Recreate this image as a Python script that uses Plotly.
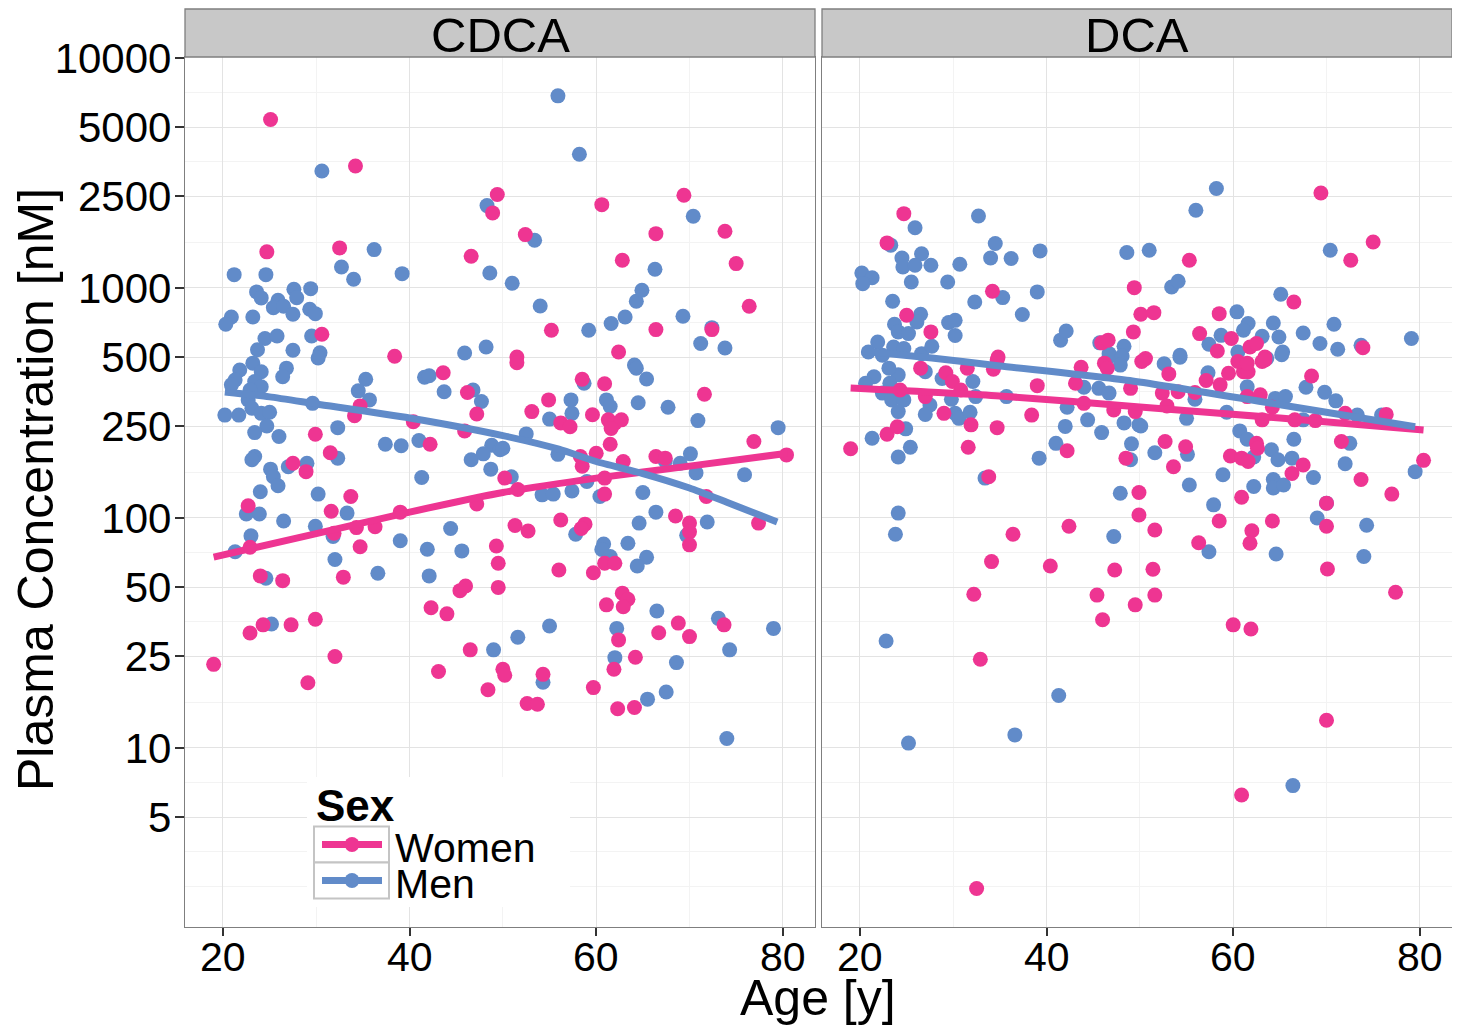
import plotly.graph_objects as go

# ---------------- data (age [y], plasma concentration [nM]) ----------------
cdca_women_age = [25.1, 34.2, 49.4, 48.9, 24.7, 32.5, 46.6, 30.6, 38.4,
                  60.6, 69.4, 52.4, 66.4, 73.8, 62.8, 75.0, 55.2, 66.4, 72.4, 76.4, 62.4, 51.5,
                  34.7, 34.1, 43.6, 46.2, 47.2, 40.4, 45.9, 29.9, 42.2, 50.2, 31.5, 27.5, 28.9,
                  33.7, 31.6, 22.7, 31.9, 34.3, 36.3, 39.0, 47.2, 34.7, 22.9, 49.3, 49.5, 24.0,
                  26.4, 32.9, 45.4, 46.0, 49.5, 42.3, 44.0, 22.9, 24.3, 27.3, 29.9, 46.5, 32.0,
                  51.5, 58.5, 60.9, 71.6, 54.9, 53.1, 56.2, 57.2, 59.6, 61.3, 62.0, 62.7, 61.6,
                  61.5, 76.9, 80.4, 51.6, 58.5, 58.3, 60.0, 62.9, 60.9, 60.9, 66.4, 67.4, 71.8,
                  68.5, 70.0, 70.0, 70.0, 77.4, 56.2, 58.8, 58.4, 51.3, 52.7, 60.9, 62.0, 59.7,
                  56.0, 62.8, 63.4, 62.9, 61.1, 68.8, 73.7, 66.7, 70.0, 62.4,
                  19.0, 29.1, 43.1, 48.4, 50.0, 50.2, 54.3, 52.6, 53.7, 59.7, 61.9, 64.2, 62.3, 64.1]
cdca_women_conc = [5400, 3390, 2547, 2120, 1435, 1493, 1374, 629, 505,
                   2302, 2530, 1706, 1722, 1765, 1320, 1276, 655, 659, 659, 832, 527, 501,
                   307, 278, 428, 351, 283, 262, 239, 231, 209, 149, 192, 173, 159,
                   124, 107, 113, 85.8, 90.8, 91.6, 106, 115, 75, 74.6, 75.5, 63.5, 56,
                   53.4, 55.3, 48.3, 50.6, 49.9, 40.7, 38.3, 31.6, 34.3, 34.3, 36.3, 26.7, 25,
                   473, 401, 383, 345, 326, 290, 259, 249, 281, 267, 258, 267, 245,
                   209, 215, 188, 133, 168, 185, 191, 176, 149, 127, 185, 182, 124,
                   102, 95, 87, 76.4, 95, 98, 94, 90, 92.7, 87.8, 63.5, 63.5, 57.8,
                   59.4, 47.1, 44.3, 41.1, 41.9, 34.9, 34.3, 31.7, 30.5, 29.5,
                   23.1, 19.2, 21.5, 17.9, 22.0, 20.7, 20.9, 15.6, 15.5, 18.3, 22.0, 24.8, 14.8, 15.0]

cdca_men_age = [30.6, 48.3, 36.2, 21.2, 24.6, 32.7, 34.0, 39.2, 48.6, 23.6, 24.1, 27.6, 29.4,
                27.9, 25.9, 25.4, 26.5, 27.5, 29.3, 29.9, 23.2, 20.9, 20.3, 24.5, 25.8, 23.7,
                27.5, 29.5, 30.4, 45.9, 48.2,
                55.9, 58.2, 70.4, 53.4, 66.3, 51.0, 54.0, 59.2, 61.6, 63.1, 64.3, 64.9, 69.3,
                72.4, 71.2, 73.8,
                30.2, 23.2, 21.8, 24.1, 26.8, 26.4, 21.3, 23.4, 20.9, 24.1, 22.9, 22.7, 23.1,
                20.2, 21.7, 24.1, 25.0, 24.7, 23.4, 26.0, 29.6, 35.3, 34.5, 35.7, 41.6, 42.1,
                43.7, 46.8, 47.7, 32.3, 37.4, 39.1, 41.0, 48.8, 49.7, 46.6, 47.9, 48.7, 32.3,
                23.4, 23.1, 27.0, 29.0, 25.1, 25.4, 25.9, 24.0, 30.2, 41.3, 33.3, 22.5, 23.9,
                26.5, 29.9, 31.8, 44.4, 39.0, 23.0, 21.3, 32.0, 41.9, 45.6, 24.6, 36.6, 42.1,
                25.2, 49.0,
                64.1, 64.3, 65.4, 58.7, 57.3, 61.1, 61.5, 64.5, 67.7, 57.4, 55.0, 70.9, 79.5,
                52.5, 50.0, 50.9, 55.9, 59.0, 60.4, 54.2, 55.4, 57.4, 65.0, 67.4, 69.0, 70.1,
                70.7, 75.9, 66.4, 64.6, 71.9, 69.7, 57.8, 60.8, 60.6, 61.5, 63.4, 65.4, 64.4,
                66.5, 73.1, 79.0, 62.2, 55.0, 51.6, 74.3,
                54.3, 62.0, 68.6, 65.5, 67.5, 74.0]
cdca_men_conc = [3225, 2280, 1468, 1142, 1142, 1234, 1091, 1154, 1162, 961, 905, 987, 993,
                 907, 884, 821, 833, 768, 808, 773, 748, 748, 695, 603, 618, 539,
                 536, 618, 523, 521, 554,
                 6840, 3810, 2050, 1611, 1206, 1048, 835, 655, 700, 748, 875, 977, 753,
                 672, 573, 548,
                 496, 471, 440, 432, 448, 411, 398, 392, 379, 372, 360, 326, 300,
                 280, 280, 285, 288, 251, 235, 226, 315, 401, 357, 326, 409, 415,
                 354, 360, 321, 247, 209, 206, 217, 207, 198, 179, 190, 163, 182,
                 185, 179, 167, 173, 163, 151, 138, 130, 127, 150, 105, 104, 104,
                 97, 92, 83, 90, 79.6, 83.6, 71.3, 66, 73.1, 71.9, 54.7, 57.5, 56,
                 34.6, 26.7,
                 462, 448, 402, 385, 326, 326, 305, 317, 303, 285, 269, 265, 247,
                 232, 201, 151, 189, 144, 124, 126, 127, 131, 129, 177, 173, 190,
                 157, 154, 106, 95, 96, 84, 85, 77, 73, 68, 77.6, 67.5, 61.8,
                 39.4, 36.6, 33.1, 33.1, 33.9, 30.3, 26.7,
                 19.3, 24.7, 23.5, 16.3, 17.5, 11.0]

dca_women_age = [24.7, 22.9, 34.2, 49.4, 25.0, 50.1, 51.5, 49.3, 27.6, 45.9, 46.6, 34.8,
                 55.3, 69.4, 72.6, 75.0, 66.5, 58.5, 56.4, 59.8, 58.3, 61.8, 62.5, 73.9, 50.6, 63.4,
                 24.3, 26.5, 29.2, 29.9, 30.8, 27.0, 29.0, 31.5, 31.9, 31.6, 34.7, 34.7, 34.3,
                 38.4, 39.0, 42.2, 43.1, 43.7, 44.0, 46.2, 46.5, 47.2, 49.0, 48.5, 50.2, 49.9,
                 49.9, 42.4, 36.4, 34.1, 40.4, 47.3, 32.2, 45.4, 46.0, 49.5, 33.8, 19.0, 22.9, 24.0,
                 53.1, 57.1, 58.6, 59.5, 61.1, 61.6, 60.5, 61.5, 63.1, 63.4, 61.5, 62.9, 64.2,
                 68.4, 66.6, 68.8, 72.0, 76.4, 52.4, 54.1, 55.9, 52.9, 49.5, 63.1, 62.5, 62.6,
                 71.6, 73.7, 77.0, 80.4, 52.7, 54.9, 53.6, 59.7, 60.9, 61.6, 66.3, 67.5, 60.9,
                 58.5, 64.2, 62.0, 61.8, 70.0, 70.0, 56.3, 70.1, 77.4, 51.6, 51.4, 51.6, 60.0, 61.9,
                 32.9, 32.5, 70.0, 60.9]
dca_women_conc = [2104, 1570, 967, 1003, 761, 768, 781, 644, 644, 577, 593, 501,
                  1320, 2588, 1320, 1585, 869, 773, 633, 603, 532, 554, 573, 550, 493, 501,
                  360, 448, 428, 392, 360, 337, 285, 448, 254, 203, 247, 486, 443,
                  280, 376, 196, 385, 452, 315, 471, 448, 295, 366, 182, 479, 129,
                  103, 92, 85, 64.6, 61.8, 59.4, 46.6, 46.2, 36.1, 41.9, 151, 200, 231, 249,
                  423, 396, 379, 426, 432, 432, 479, 471, 479, 486, 337, 343, 303,
                  414, 267, 265, 285, 282, 349, 354, 351, 307, 290, 267, 211, 201,
                  215, 147, 127, 178, 215, 204, 167, 186, 182, 176, 156, 170, 123,
                  97, 97, 88, 77.6, 116, 92, 78, 60, 47.5, 88.7, 59.8, 46.2, 34.3, 32.9,
                  24.3, 2.45, 13.2, 6.25]

dca_men_age = [25.9, 32.7, 23.3, 34.5, 39.3, 34.0, 36.2, 26.6, 24.5, 24.6, 25.9, 27.6, 30.7,
               20.2, 21.3, 20.3, 25.5, 29.4, 48.6, 35.3, 39.0, 23.5, 32.3, 37.4, 26.5, 26.1,
               23.7, 24.1, 25.2, 29.5, 30.2, 30.2, 41.5, 42.1, 48.3, 46.7, 45.7, 21.9, 20.9,
               23.6, 24.7, 26.6, 27.7, 22.4,
               58.2, 56.0, 51.0, 70.4, 53.4, 54.1, 65.1, 60.4, 58.7, 57.4, 61.6, 61.1, 60.5,
               63.1, 64.3, 64.9, 65.3, 67.5, 69.3, 70.8, 71.2, 73.7, 79.1, 54.3,
               24.1, 21.5, 23.2, 23.1, 20.6, 22.4, 23.4, 24.7, 24.1, 27.0, 28.8, 27.5, 27.0,
               29.8, 30.2, 30.6, 31.8, 32.1, 32.4, 35.7, 39.2, 41.0, 42.0, 42.2, 44.0, 44.4,
               45.9, 45.6, 46.7, 46.7, 48.1, 47.9, 48.3, 49.9, 49.1, 49.0, 47.9, 47.2, 24.1,
               23.8, 22.8, 33.4, 21.3, 24.9, 25.4, 24.1,
               52.6, 54.3, 57.3, 63.6, 65.2, 61.5, 64.5, 65.6, 67.8, 69.8, 71.0, 67.5, 73.3,
               75.9, 55.9, 50.1, 55.0, 59.3, 60.7, 61.5, 66.5, 72.5, 72.0, 79.5, 51.6, 55.1,
               55.3, 58.9, 62.2, 64.1, 64.8, 66.3, 68.6, 64.3, 64.3, 65.4, 62.2, 57.9, 70.0,
               69.0, 74.3, 57.4, 64.6, 74.0,
               41.3, 36.6, 25.2, 66.4]
dca_men_conc = [1827, 2055, 1535, 1560, 1449, 1350, 1342, 1409, 1350, 1234, 1255, 1255, 1268,
                1162, 1108, 1044, 1062, 1062, 1425, 908, 961, 875, 869, 766, 768, 711,
                695, 644, 633, 707, 723, 621, 593, 650, 558, 518, 577, 582, 527,
                554, 545, 518, 558, 510,
                2704, 2178, 1459, 1459, 1010, 1069, 939, 787, 622, 569, 700, 655, 527,
                616, 704, 612, 527, 637, 573, 695, 541, 563, 603, 510,
                419, 411, 385, 448, 385, 349, 326, 326, 290, 432, 404, 310, 282,
                328, 285, 271, 288, 392, 337, 337, 182, 211, 250, 303, 370, 267,
                235, 366, 349, 502, 506, 462, 259, 254, 210, 179, 128, 83, 105,
                85, 29.2, 149, 222, 244, 203, 184,
                468, 500, 428, 494, 512, 372, 331, 337, 370, 352, 323, 267, 280,
                280, 328, 251, 271, 288, 239, 220, 220, 211, 172, 159, 192, 189,
                139, 154, 184, 198, 179, 182, 150, 147, 135, 139, 137, 114, 116,
                100, 93, 71.3, 69.7, 68,
                16.9, 11.4, 10.5, 6.86]

# smoothed trend lines
cdca_women_fit_age = [19, 30, 40, 50, 60, 70, 80.5]
cdca_women_fit_conc = [67.6, 85.5, 106, 129, 149, 168, 191]
cdca_men_fit_age = [20.2, 25, 30, 40, 50, 56, 60, 65, 70, 74, 79.4]
cdca_men_fit_conc = [353, 336, 313, 272, 228, 199, 176, 156, 135, 117, 96]
dca_women_fit_age = [19, 35, 50, 65, 80.4]
dca_women_fit_conc = [367, 339, 304, 272, 241]
dca_men_fit_age = [20.2, 27.7, 35, 49.2, 65.2, 79.5]
dca_men_fit_conc = [532, 496, 458, 394, 310, 249]

panel_names = ["CDCA", "DCA"]
sex_names = ["Women", "Men"]
legend_title = "Sex"
x_ticks = [20, 40, 60, 80]
x_minor = [30, 50, 70]
y_ticks = [5, 10, 25, 50, 100, 250, 500, 1000, 2500, 5000, 10000]
y_minor = [2.5, 3.54, 7.07, 15.8, 35.4, 70.7, 158, 354, 707, 1581, 3536, 7071]

PINK = "#EE3592"
BLUE = "#618BC9"
FONT = "Liberation Sans, Arial, Helvetica, sans-serif"

fig = go.Figure()

panels = [
    ("x", "y", cdca_men_age, cdca_men_conc, cdca_women_age, cdca_women_conc,
     cdca_women_fit_age, cdca_women_fit_conc, cdca_men_fit_age, cdca_men_fit_conc),
    ("x2", "y2", dca_men_age, dca_men_conc, dca_women_age, dca_women_conc,
     dca_women_fit_age, dca_women_fit_conc, dca_men_fit_age, dca_men_fit_conc),
]
for xa, ya, ma, mc, wa, wc, wfa, wfc, mfa, mfc in panels:
    fig.add_trace(go.Scatter(x=ma, y=mc, xaxis=xa, yaxis=ya, mode="markers", name="Men",
                             marker=dict(color=BLUE, size=15, line=dict(width=0)),
                             showlegend=False, hoverinfo="skip"))
    fig.add_trace(go.Scatter(x=wa, y=wc, xaxis=xa, yaxis=ya, mode="markers", name="Women",
                             marker=dict(color=PINK, size=15, line=dict(width=0)),
                             showlegend=False, hoverinfo="skip"))
    fig.add_trace(go.Scatter(x=wfa, y=wfc, xaxis=xa, yaxis=ya, mode="lines",
                             line=dict(color=PINK, width=7, shape="spline", smoothing=0.6),
                             showlegend=False, hoverinfo="skip"))
    fig.add_trace(go.Scatter(x=mfa, y=mfc, xaxis=xa, yaxis=ya, mode="lines",
                             line=dict(color=BLUE, width=7, shape="spline", smoothing=0.6),
                             showlegend=False, hoverinfo="skip"))

# The page body adds an 8px offset; the figure is sized so the plot lands where the reference has it.
OFF = 8
W, H = 1460 - OFF, 1027 - OFF
L, R, T, B = 185 - OFF, 8, 57 - OFF, 100
pw = W - L - R
ph = H - T - B
d1 = (0, 630 / pw)
d2 = (637 / pw, 1)


def px(x):  # reference-pixel x -> paper
    return (x - 185) / pw


def py(y):  # reference-pixel y -> paper
    return (927 - y) / ph


xcommon = dict(range=[15.93, 83.45], tickvals=x_ticks, showticklabels=False,
               ticks="outside", ticklen=8, tickwidth=1.5, tickcolor="#333333",
               showgrid=True, gridcolor="#e3e3e3", gridwidth=1.3,
               minor=dict(tickvals=x_minor, showgrid=True, gridcolor="#f3f3f3", gridwidth=1.3, ticks=""),
               showline=True, mirror=True, linecolor="#7f7f7f", linewidth=1.3, zeroline=False)
ycommon = dict(type="log", range=[0.2217, 4.004], tickvals=y_ticks, ticktext=[str(v) for v in y_ticks],
               showgrid=True, gridcolor="#e3e3e3", gridwidth=1.3,
               minor=dict(tickvals=y_minor, showgrid=True, gridcolor="#f3f3f3", gridwidth=1.3, ticks=""),
               showline=True, mirror=True, linecolor="#7f7f7f", linewidth=1.3, zeroline=False)

fig.update_layout(
    width=W, height=H,
    margin=dict(l=L, r=R, t=T, b=B),
    paper_bgcolor="white", plot_bgcolor="white",
    font=dict(family=FONT, color="black"),
    xaxis=dict(domain=list(d1), anchor="y", **xcommon),
    xaxis2=dict(domain=list(d2), anchor="y2", **xcommon),
    yaxis=dict(domain=[0, 1], anchor="x", ticks="outside", ticklen=9, tickwidth=1.5,
               tickcolor="#333333", ticklabelstandoff=-5,
               tickfont=dict(size=42, color="black", family=FONT), **ycommon),
    yaxis2=dict(domain=[0, 1], anchor="x2", matches="y", showticklabels=False, ticks="", **ycommon),
    showlegend=False,
)

# x tick labels (placed on the data axis)
for xa in ["x", "x2"]:
    for v in x_ticks:
        fig.add_annotation(xref=xa, yref="paper", x=v, y=py(957), text=str(v), showarrow=False,
                           font=dict(size=41, family=FONT, color="black"),
                           xanchor="center", yanchor="middle")

# facet strips
strip_top = py(9)
for (x0, x1), name in zip([d1, d2], panel_names):
    fig.add_shape(type="rect", xref="paper", yref="paper", x0=x0, x1=x1, y0=1, y1=strip_top,
                  fillcolor="#c8c8c8", line=dict(color="#7f7f7f", width=1.3), layer="above")
    fig.add_annotation(xref="paper", yref="paper", x=(x0 + x1) / 2, y=py(35),
                       text=name, showarrow=False, font=dict(size=49, family=FONT, color="black"),
                       xanchor="center", yanchor="middle")

# axis titles
fig.add_annotation(xref="paper", yref="paper", x=px(818), y=py(998), text="Age [y]",
                   showarrow=False, font=dict(size=50, family=FONT, color="black"),
                   xanchor="center", yanchor="middle")
fig.add_annotation(xref="paper", yref="paper", x=px(36), y=py(490),
                   text="Plasma Concentration [nM]", textangle=-90, showarrow=False,
                   font=dict(size=50, family=FONT, color="black"),
                   xanchor="center", yanchor="middle")

# legend (ggplot-style, drawn inside the CDCA panel)
fig.add_shape(type="rect", xref="paper", yref="paper", x0=px(307), x1=px(570), y0=py(907), y1=py(777),
              fillcolor="white", line=dict(width=0), layer="above")
fig.add_annotation(xref="paper", yref="paper", x=px(314), y=py(805), text="<b>" + legend_title + "</b>",
                   showarrow=False, font=dict(size=44, family=FONT, color="black"),
                   xanchor="left", yanchor="middle")
key_rows = [(826.5, 862.5), (862.5, 898.5)]
for (k0, k1), name, col in zip(key_rows, sex_names, [PINK, BLUE]):
    fig.add_shape(type="rect", xref="paper", yref="paper", x0=px(314), x1=px(389), y0=py(k1), y1=py(k0),
                  fillcolor="white", line=dict(color="#c4c4c4", width=2), layer="above")
    yc = (k0 + k1) / 2
    fig.add_shape(type="line", xref="paper", yref="paper", x0=px(322), x1=px(382), y0=py(yc), y1=py(yc),
                  line=dict(color=col, width=7), layer="above")
    fig.add_shape(type="circle", xref="paper", yref="paper", x0=px(352 - 7.5), x1=px(352 + 7.5),
                  y0=py(yc + 7.5), y1=py(yc - 7.5), fillcolor=col, line=dict(width=0), layer="above")
    fig.add_annotation(xref="paper", yref="paper", x=px(393), y=py(yc + 3), text=name,
                       showarrow=False, font=dict(size=41, family=FONT, color="black"),
                       xanchor="left", yanchor="middle")

fig.write_html("out.html")
